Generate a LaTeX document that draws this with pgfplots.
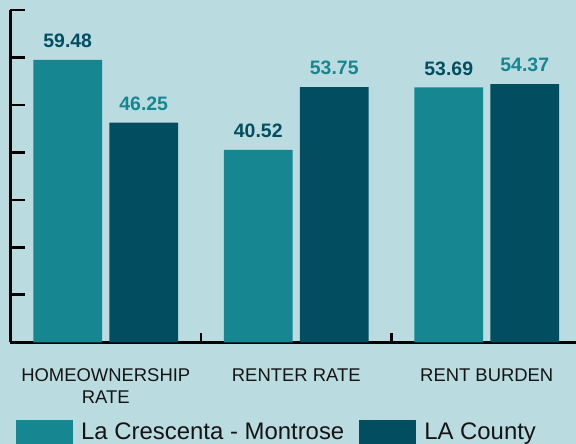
\documentclass[border=0pt]{standalone}
\usepackage{fontspec}
\setmainfont{Liberation Sans}
\usepackage{pgfplots}
\pgfplotsset{compat=1.18}
\definecolor{BGBlue}{HTML}{BADCE0}
\definecolor{Teal}{HTML}{168691}
\definecolor{DarkTeal}{HTML}{024D5F}
\definecolor{Ink}{HTML}{141414}
\begin{document}
\begin{tikzpicture}
\path[use as bounding box,fill=BGBlue] (-10.5bp,-101.7bp) rectangle (565.5bp,342.3bp);
\begin{axis}[
  at={(0,0)},anchor=south west,
  scale only axis,width=571.5bp,height=332.3bp,
  xmin=-0.5,xmax=2.5,ymin=0,ymax=70,
  axis lines*=left,
  axis line style={line width=2.7bp,black},
  tick align=inside,
  ytick={0,10,...,70},yticklabels={},
  major tick length=14bp,
  tick style={line width=2.7bp,black},
  xtick={0,1,2},
  xticklabels={HOMEOWNERSHIP\\RATE,RENTER RATE,RENT BURDEN},
  major x tick style={draw=none},
  minor xtick={0.5,1.5},
  minor tick length=9.5bp,
  minor x tick style={line width=2.2bp,black,yshift=9.5bp},
  xticklabel style={align=center,inner sep=0pt,yshift=-12.5bp,text=Ink,
    font=\fontsize{18.5}{21.7}\selectfont},
  ybar,bar width=68.7bp,
  clip=false,
  nodes near coords={\pgfmathprintnumber[fixed,fixed zerofill,precision=2,assume math mode=true]{\pgfplotspointmeta}},
  every node near coord/.append style={inner sep=0pt,yshift=12bp,
    font=\fontsize{19.5}{22}\selectfont\bfseries},
  legend columns=2,
  legend style={at={(0.0096,-77.7/332.3)},anchor=north west,
    draw=none,fill=none,inner sep=0pt,
    nodes={inner sep=0pt,text=Ink,yshift=7.5bp,font=\fontsize{24}{26}\selectfont},
    /tikz/every odd column/.append style={column sep=8bp},
    /tikz/every even column/.append style={column sep=15bp}},
  legend image code/.code={\fill[#1] (0bp,-8bp) rectangle (57bp,19.5bp);},
]
\addplot[fill=Teal,draw=none,bar shift=-38bp,
  every node near coord/.append style={text=DarkTeal}]
  coordinates {(0,59.48)(1,40.52)(2,53.69)};
\addlegendentry{La Crescenta - Montrose}
\addplot[fill=DarkTeal,draw=none,bar shift=38bp,
  every node near coord/.append style={text=Teal}]
  coordinates {(0,46.25)(1,53.75)(2,54.37)};
\addlegendentry{LA County}
\end{axis}
\end{tikzpicture}
\end{document}
